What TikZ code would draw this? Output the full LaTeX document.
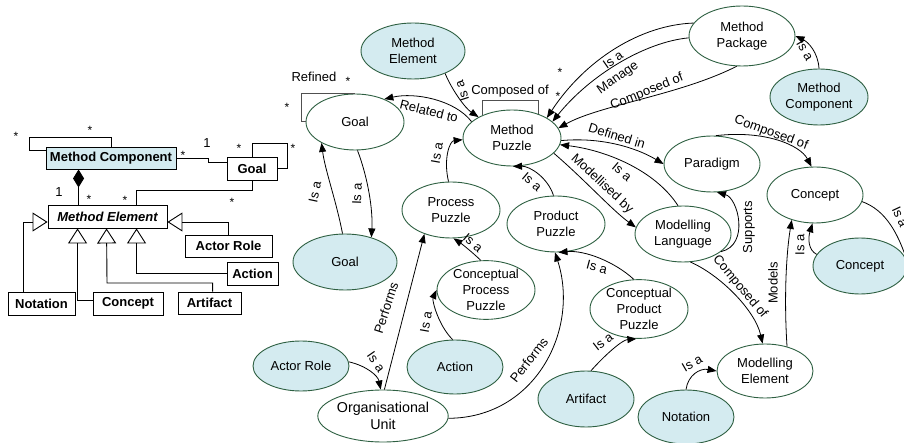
\documentclass[tikz,border=0pt]{standalone}
\usepackage{fontspec}
\setmainfont{Liberation Sans}
\usetikzlibrary{shapes.geometric,arrows.meta,calc}
\definecolor{bfill}{RGB}{212,235,240}
\definecolor{egreen}{RGB}{45,95,65}
\definecolor{loopc}{RGB}{80,80,80}
\begin{document}
\begin{tikzpicture}[x=1pt,y=-1pt,
  font=\fontsize{13pt}{16pt}\selectfont,
  el/.style={ellipse,draw=egreen,line width=0.9pt,inner sep=0pt,align=center},
  elb/.style={el,fill=bfill},
  arr/.style={-{Triangle[length=9pt,width=7pt]},line width=0.8pt},
  plain/.style={line width=0.8pt},
  lp/.style={draw=loopc,line width=1pt},
  lab/.style={inner sep=0pt},
  star/.style={inner sep=0pt,font=\fontsize{12pt}{14pt}\selectfont},
  ubox/.style={draw,fill=white,line width=0.9pt,inner sep=0pt,font=\fontsize{13pt}{16pt}\selectfont\bfseries},
  gen/.style={-{Triangle[open,length=15pt,width=19pt]},line width=0.9pt},
  uline/.style={line width=0.9pt}
]
\useasboundingbox (0,0) rectangle (904,443);
\clip (0,0) rectangle (904,443);

% ---------------- UML part ----------------
\node[ubox,fill=bfill,minimum width=130pt,minimum height=22pt] (mcbox) at (111,158) {Method Component};
\node[ubox,minimum width=50pt,minimum height=23pt] (goalbox) at (252,168.5) {Goal};
\node[ubox,minimum width=119pt,minimum height=23pt,font=\fontsize{13pt}{16pt}\selectfont\bfseries\itshape] (mebox) at (107.5,216.5) {Method Element};
\node[ubox,minimum width=87pt,minimum height=22pt] (arbox) at (228.5,246) {Actor Role};
\node[ubox,minimum width=51pt,minimum height=23pt] (actbox) at (252.5,273.5) {Action};
\node[ubox,minimum width=67pt,minimum height=23pt] (notbox) at (41.5,303.5) {Notation};
\node[ubox,minimum width=70pt,minimum height=23pt] (conbox) at (128,303.5) {Concept};
\node[ubox,minimum width=63pt,minimum height=22pt] (artbox) at (209.5,303) {Artifact};

% self loop on Method Component
\draw[uline] ([xshift=66pt]mcbox.north west) |- (29,137) |- ([yshift=-4pt]mcbox.north west);
% Method Component -- Goal
\draw[uline] (mcbox.east) -- (208,158) -- (208,162) -- ([yshift=6.5pt]goalbox.west);
% Goal self loop
\draw[uline] (goalbox.north) |- (287,143) |- (goalbox.east);
% Goal -- Method Element
\draw[uline] (goalbox.south) -- (252,190) -| ([xshift=89pt]mebox.north west);
% composition
\draw[uline,{Diamond[length=18pt,width=11pt]}-] ([xshift=33pt]mcbox.south west) -- ([xshift=31pt]mebox.north west);
% generalisations
\draw[gen] ([xshift=16pt]notbox.north west) |- ([yshift=-5.5pt]mebox.west);
\draw[gen] ([yshift=3.5pt]conbox.west) -| ([xshift=30pt]mebox.south west);
\draw[gen] ([xshift=35pt]artbox.north west) |- (107,283) -- ([xshift=59pt]mebox.south west);
\draw[gen] (actbox.west) -| ([xshift=89pt]mebox.south west);
\draw[gen] (arbox.north) |- ([yshift=-5.5pt]mebox.east);

% multiplicities
\node[star] (s1) at (16,136) {*};
\node[star] (s2) at (90,130) {*};
\node[star] (s3) at (183,155) {*};
\node[lab] (m1) at (207,143) {1};
\node[star] (s4) at (239,148) {*};
\node[star] (s5) at (293,148) {*};
\node[lab] (m2) at (59,192) {1};
\node[star] (s6) at (89,199) {*};
\node[star] (s7) at (125,200) {*};
\node[star] (s8) at (232,202) {*};

% ---------------- concept map ----------------
\node[elb,minimum width=104pt,minimum height=56pt] (me) at (413,51) {Method\\Element};
\node[el,minimum width=98pt,minimum height=56pt] (goalw) at (355,122) {Goal};
\node[el,minimum width=98pt,minimum height=56pt] (mp) at (512,138) {Method\\Puzzle};
\node[el,minimum width=106pt,minimum height=60pt] (mpk) at (742,36) {Method\\Package};
\node[elb,minimum width=98pt,minimum height=56pt] (mc) at (819,97) {Method\\Component};
\node[el,minimum width=96pt,minimum height=56pt] (par) at (712,164) {Paradigm};
\node[el,minimum width=96pt,minimum height=56pt] (conw) at (815,195) {Concept};
\node[elb,minimum width=94pt,minimum height=56pt] (conb) at (860,266) {Concept};
\node[el,minimum width=96pt,minimum height=56pt] (ml) at (683,234) {Modelling\\Language};
\node[elb,minimum width=104pt,minimum height=56pt] (goalb) at (345,262) {Goal};
\node[el,minimum width=98pt,minimum height=56pt] (pp) at (451,210) {Process\\Puzzle};
\node[el,minimum width=98pt,minimum height=56pt] (prp) at (556,224) {Product\\Puzzle};
\node[el,minimum width=98pt,minimum height=56pt] (cpp) at (486,290) {Conceptual\\Process\\Puzzle};
\node[el,minimum width=98pt,minimum height=54pt] (cprp) at (639,309) {Conceptual\\Product\\Puzzle};
\node[elb,minimum width=96pt,minimum height=56pt] (art) at (586,399) {Artifact};
\node[elb,minimum width=96pt,minimum height=54pt] (nota) at (686,417) {Notation};
\node[el,minimum width=96pt,minimum height=54pt] (mel) at (765,371) {Modelling\\Element};
\node[elb,minimum width=96pt,minimum height=50pt] (ar) at (301,366) {Actor Role};
\node[elb,minimum width=96pt,minimum height=54pt] (act) at (455,367) {Action};
\node[el,minimum width=110pt,minimum height=52pt,font=\fontsize{14.3pt}{16.5pt}\selectfont] (ou) at (383,416) {Organisational\\Unit};
\coordinate (offr) at (912,278);

% self loops
\draw[lp] (goalw.west) -- ++(-4,0) |- (goalw.north);
\draw[lp] (mp.142) -- ++(0,-15) -| (mp.42);

% connectors
\draw[arr] (mp.158) .. controls (455,100) and (415,92) .. (goalw.38);
\draw[arr] (me.-35) .. controls (452,90) and (465,108) .. (mp.148);
\draw[arr] (mpk.165) .. controls (640,25) and (585,60) .. (mp.30);
\draw[arr] (mpk.182) .. controls (645,42) and (590,75) .. (mp.22);
\draw[arr] (mpk.-100) .. controls (680,95) and (600,105) .. (mp.12);
\draw[arr] (mc.north) .. controls (818,52) and (808,42) .. (mpk.east);
\draw[arr] (mp.-3) .. controls (600,137) and (635,147) .. (par.180);
\draw[arr] (ml.100) .. controls (655,170) and (605,150) .. (mp.-8);
\draw[arr] (mp.-20) .. controls (585,180) and (612,210) .. (ml.172);
\draw[arr] (par.82) .. controls (765,130) and (800,145) .. (conw.97);
\draw[arr] (ml.-25) .. controls (750,245) and (738,198) .. (par.-80);
\draw[arr] (ml.-75) .. controls (720,275) and (755,310) .. (mel.95);
\draw[arr] (mel.48) .. controls (784,300) and (786,255) .. (conw.-133);
\draw[arr] (conb.165) .. controls (808,250) and (808,238) .. (conw.-95);
\draw[plain] (conw.-8) .. controls (885,210) and (900,232) .. (offr);
\draw[arr] (pp.95) .. controls (443,158) and (450,141) .. (mp.182);
\draw[arr] (prp.95) .. controls (548,178) and (530,166) .. (mp.-88);
\draw[arr] (goalw.-85) .. controls (368,178) and (373,210) .. (goalb.43);
\draw[arr] (goalb.95) .. controls (336,200) and (325,170) .. (goalw.-148);
\draw[arr] (cpp.100) .. controls (472,252) and (462,244) .. (pp.-85);
\draw[arr] (cprp.100) .. controls (615,262) and (585,250) .. (prp.-85);
\draw[arr] (art.80) .. controls (605,355) and (622,340) .. (cprp.-95);
\draw[arr] (nota.90) .. controls (688,375) and (700,368) .. (mel.180);
\draw[arr] (ar.5) .. controls (367,366) and (378,376) .. (ou.95);
\draw[arr] (ou.87) -- (pp.-138);
\draw[arr] (ou.-2) .. controls (535,418) and (580,330) .. (prp.-92);
\draw[arr] (act.95) .. controls (438,325) and (432,300) .. (cpp.180);

% labels
\node[lab] (l1) at (314,77) {Refined};
\node[star] (l2) at (348,81) {*};
\node[star] (l3) at (287,107) {*};
\node[lab] (l4) at (510,91) {Composed of};
\node[star] (l5) at (558,96) {*};
\node[star] (l6) at (560,72) {*};
\node[lab,rotate=-14] (l7) at (429,111) {Related to};
\node[lab,rotate=108] (l8) at (462,91) {Is a};
\node[lab,rotate=35] (l9) at (613,60) {Is a};
\node[lab,rotate=35] (l10) at (618,78) {Manage};
\node[lab,rotate=22] (l11) at (647,92) {Composed of};
\node[lab,rotate=-60] (l12) at (805,50) {Is a};
\node[lab,rotate=-17] (l13) at (617,136) {Defined in};
\node[lab,rotate=-40] (l14) at (622,172) {Is a};
\node[lab,rotate=-43] (l15) at (602,184) {Modellised by};
\node[lab,rotate=-20] (l16) at (771,133) {Composed of};
\node[lab,rotate=90] (l17) at (749,227) {Supports};
\node[lab,rotate=-50] (l18) at (740,287) {Composed of};
\node[lab,rotate=90] (l19) at (773,283) {Models};
\node[lab,rotate=90] (l20) at (800,245) {Is a};
\node[lab,rotate=-65] (l21) at (900,217) {Is a};
\node[lab,rotate=80] (l22) at (437,153) {Is a};
\node[lab,rotate=-40] (l23) at (532,182) {Is a};
\node[lab,rotate=88] (l24) at (357,194) {Is a};
\node[lab,rotate=78] (l25) at (315,192) {Is a};
\node[lab,rotate=-40] (l26) at (473,243) {Is a};
\node[lab,rotate=-15] (l27) at (597,267) {Is a};
\node[lab,rotate=38] (l28) at (603,342) {Is a};
\node[lab,rotate=30] (l29) at (692,363) {Is a};
\node[lab,rotate=-55] (l30) at (376,362) {Is a};
\node[lab,rotate=72] (l31) at (386,308) {Performs};
\node[lab,rotate=52] (l32) at (529,360) {Performs};
\node[lab,rotate=80] (l33) at (426,322) {Is a};
\end{tikzpicture}
\end{document}
